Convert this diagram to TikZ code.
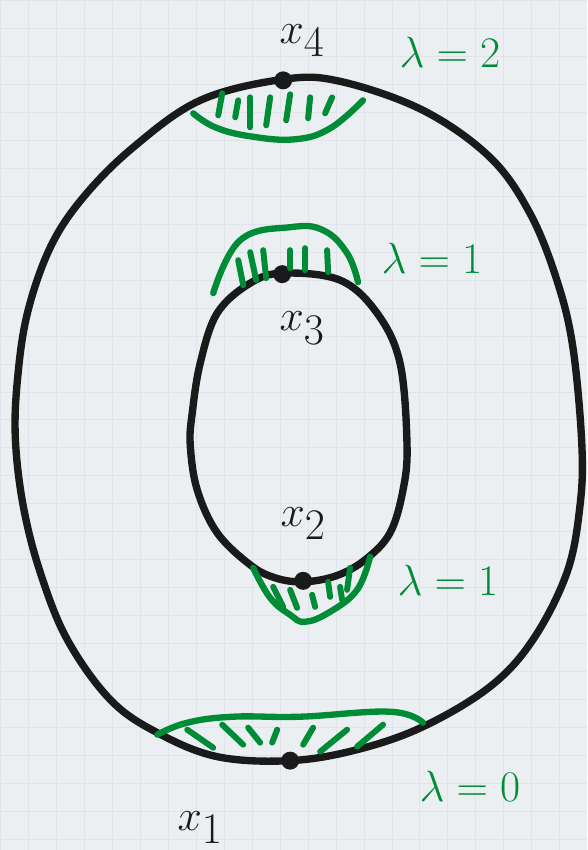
\documentclass[tikz,border=0pt]{standalone}
\usepackage{amsmath}
\usepackage{xcolor}
\definecolor{paper}{RGB}{236,239,242}
\definecolor{paperline}{RGB}{222,228,233}
\definecolor{inkblack}{RGB}{26,26,26}
\definecolor{inkgreen}{RGB}{0,140,55}
\tikzset{
  surface/.style={inkblack,line width=4.2pt,line cap=round,line join=round},
  greencap/.style={inkgreen,line width=3.6pt,line cap=round},
  hatch/.style={inkgreen,line width=3.4pt,line cap=round},
  critpt/.style={circle,fill=inkblack,inner sep=0pt,minimum size=0.36cm},
  ptlabel/.style={inkblack,font=\fontsize{40}{40}\selectfont},
  indexlabel/.style={inkgreen,font=\fontsize{30}{30}\selectfont}
}

\begin{document}
\begin{tikzpicture}[x=0.02cm,y=-0.02cm]
    % Paper
    \fill[paper] (0,0) rectangle (587,850);
    \draw[paperline,line width=0.5pt,step=0.56cm] (0,0) grid (587,850);
    \useasboundingbox (0,0) rectangle (587,850);

    % Outer and inner boundary
    \draw[surface] plot[smooth cycle,tension=0.6] coordinates {(283,79) (340,81) (423,110) (490,157) (530,213)
        (557,280) (573,347) (582,445) (580,507) (567,573) (533,640) (490,687) (423,727) (357,750) (290,761)
        (217,757) (157,733) (110,700) (67,640) (40,573) (23,507) (15,440) (17,380) (27,313) (50,247)
        (83,197) (133,147) (200,100)};
    \draw[surface] plot[smooth cycle,tension=0.6] coordinates {(283,273) (340,280) (377,313) (400,363)
        (407,445) (403,490) (390,533) (365,560) (336,576) (303,582) (275,578) (250,565) (217,533)
        (197,490) (190,445) (192,413) (200,363) (217,313) (250,283)};

    % Critical points
    \node[critpt] (p4) at (283,80) {};
    \node[critpt] (p3) at (282,274) {};
    \node[critpt] (p2) at (303,581) {};
    \node[critpt] (p1) at (290,761) {};

    % Green caps
    \draw[greencap] plot[smooth,tension=0.7] coordinates {(193,113) (215,127) (250,136) (295,139) (330,128) (363,100)};
    \draw[greencap] plot[smooth,tension=0.7] coordinates {(213,293) (240,240) (290,227) (323,230) (347,253) (358,282)};
    \draw[greencap] plot[smooth,tension=0.7] coordinates {(253,568) (270,598) (290,615) (305,622) (330,612) (357,590) (370,557)};
    \draw[greencap] plot[smooth,tension=0.7] coordinates {(157,735) (187,723) (233,717) (300,717) (390,712) (423,723)};

    % Hatching
    \foreach \xa/\ya/\xb/\yb in {222/93/218/115, 238/100/235/117, 250/97/250/127, 270/97/266/125,
        290/94/286/120, 310/97/308/118, 332/97/325/113}
        \draw[hatch] (\xa,\ya) -- (\xb,\yb);
    \foreach \xa/\ya/\xb/\yb in {238/260/243/285, 250/252/256/280, 263/250/266/278, 290/250/290/268,
        305/248/305/270, 327/250/328/272}
        \draw[hatch] (\xa,\ya) -- (\xb,\yb);
    \foreach \xa/\ya/\xb/\yb in {273/587/283/607, 290/590/297/608, 312/595/315/607, 328/582/330/597,
        340/587/342/600, 350/568/347/590}
        \draw[hatch] (\xa,\ya) -- (\xb,\yb);
    \foreach \xa/\ya/\xb/\yb in {187/730/213/748, 222/725/243/745, 248/728/260/743, 277/730/272/743,
        313/728/303/745, 347/730/320/752, 383/725/357/747}
        \draw[hatch] (\xa,\ya) -- (\xb,\yb);

    % Labels
    \node[ptlabel] (l4) at (302,40) {$x_4$};
    \node[ptlabel] (l3) at (302,328) {$x_3$};
    \node[ptlabel] (l2) at (303,524) {$x_2$};
    \node[ptlabel] (l1) at (200,828) {$x_1$};
    \node[indexlabel] (i4) at (450,52) {$\lambda=2$};
    \node[indexlabel] (i3) at (432,258) {$\lambda=1$};
    \node[indexlabel] (i2) at (448,580) {$\lambda=1$};
    \node[indexlabel] (i1) at (470,787) {$\lambda=0$};
\end{tikzpicture}
\end{document}
